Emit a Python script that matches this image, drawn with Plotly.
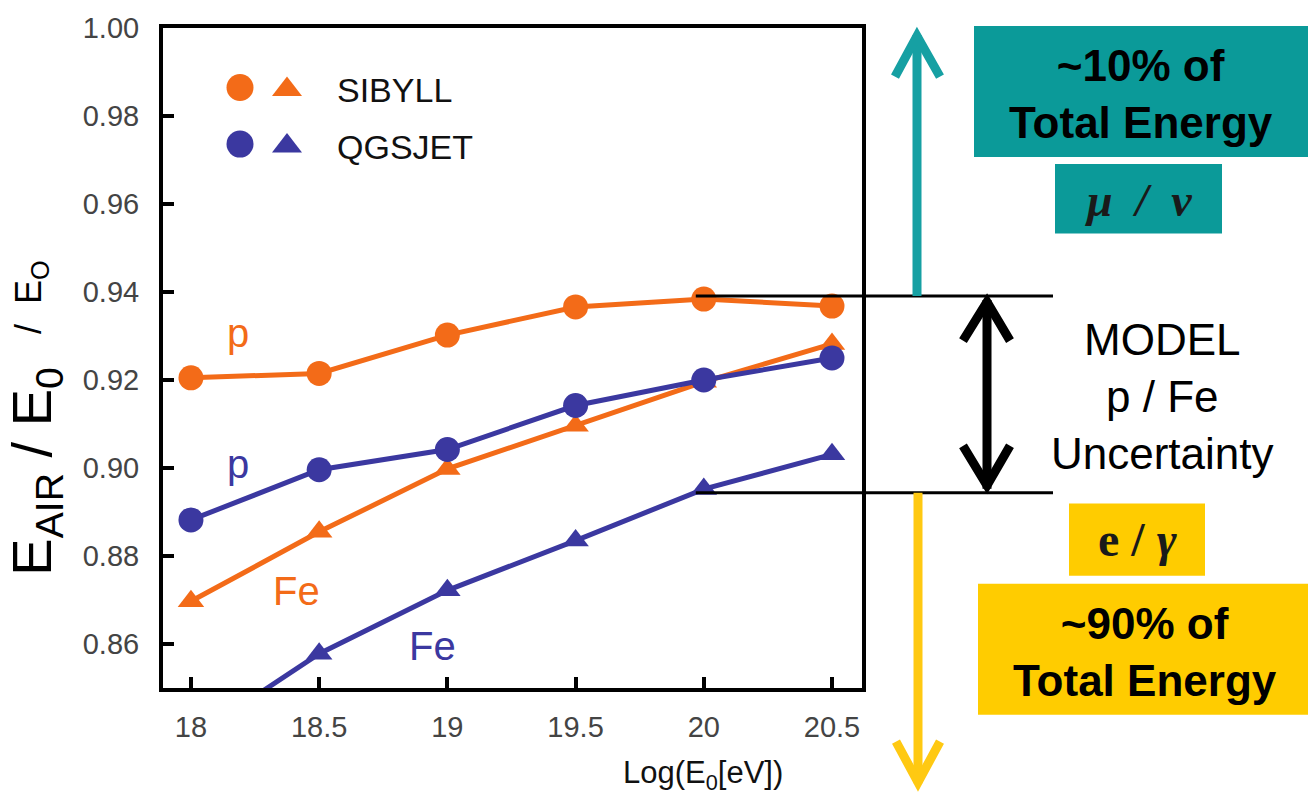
import plotly.graph_objects as go

# ---------------- data ----------------
log_e = [18.0, 18.5, 19.0, 19.5, 20.0, 20.5]
sibyll_p = [0.9205, 0.9215, 0.9302, 0.9366, 0.9384, 0.9368]
sibyll_fe = [0.8697, 0.8855, 0.8998, 0.9096, 0.9196, 0.9282]
qgsjet_p = [0.8882, 0.8996, 0.9042, 0.9142, 0.9200, 0.9250]
qgsjet_fe = [0.8385, 0.8578, 0.8722, 0.8835, 0.8952, 0.9031]
model_band = [0.8944, 0.9391]   # lower / upper edge of the p/Fe uncertainty band

x_ticks = [18, 18.5, 19, 19.5, 20, 20.5]
x_tick_text = ["18", "18.5", "19", "19.5", "20", "20.5"]
y_ticks = [0.86, 0.88, 0.90, 0.92, 0.94, 0.96, 0.98, 1.00]
y_tick_text = ["0.86", "0.88", "0.90", "0.92", "0.94", "0.96", "0.98", "1.00"]

ORANGE = "#F36B18"
BLUE = "#3B38A0"
TEAL_BOX = "#0B9A99"
TEAL_ARROW = "#16A0A3"
YELLOW = "#FFCC00"
YELLOW_ARROW = "#FFC912"
SANS = "Liberation Sans, Arial, sans-serif"
SERIF = "Liberation Serif, Times New Roman, serif"

# ---------------- geometry ----------------
W, H = 1308, 795
L, R, T, B = 163, 862, 23, 688
X_RANGE = [17.891, 20.617]
Y_RANGE = [0.85, 1.0]


def px(x):
    return (x - L) / (R - L)


def py(y):
    return (B - y) / (B - T)


def dx(v):
    return (v - X_RANGE[0]) / (X_RANGE[1] - X_RANGE[0])


def dy(v):
    return (v - Y_RANGE[0]) / (Y_RANGE[1] - Y_RANGE[0])


fig = go.Figure()

series = [
    (sibyll_p, ORANGE, "circle", 25),
    (sibyll_fe, ORANGE, "triangle-up", 23),
    (qgsjet_p, BLUE, "circle", 25),
    (qgsjet_fe, BLUE, "triangle-up", 23),
]
for vals, col, sym, size in series:
    fig.add_trace(go.Scatter(
        x=log_e, y=vals, mode="lines+markers",
        line=dict(color=col, width=5),
        marker=dict(symbol=sym, size=size, color=col, opacity=1, line=dict(width=0)),
        showlegend=False, hoverinfo="skip",
    ))

# legend symbols on an overlay axis in [0,1] plot-area units
leg_x = [px(240), px(287), px(240), px(287)]
leg_y = [py(83), py(85), py(140), py(142)]
leg_sym = ["circle", "triangle-up", "circle", "triangle-up"]
leg_col = [ORANGE, ORANGE, BLUE, BLUE]
fig.add_trace(go.Scatter(
    x=leg_x, y=leg_y, mode="markers", xaxis="x2", yaxis="y2",
    marker=dict(symbol=leg_sym, color=leg_col, size=[27, 26, 27, 26], opacity=1,
                line=dict(width=0)),
    showlegend=False, hoverinfo="skip",
))

ann = []


def text(x, y, s, size, color="black", family=SANS, angle=0, xanchor="center"):
    ann.append(dict(x=x, y=y, xref="paper", yref="paper", text=s, showarrow=False,
                    font=dict(size=size, color=color, family=family),
                    textangle=angle, xanchor=xanchor, yanchor="middle"))


# legend labels
text(px(335), py(85), "SIBYLL", 34, "#111111", xanchor="left")
text(px(335), py(143), "QGSJET", 34, "#111111", xanchor="left")

# curve labels
text(px(238), py(330), "p", 40, ORANGE)
text(px(238), py(462), "p", 40, BLUE)
text(px(296), py(590), "Fe", 40, ORANGE)
text(px(432), py(646), "Fe", 40, BLUE)

# axis titles
text(px(36), py(470), "E<sub>AIR</sub> / E<sub>0</sub>", 56, "black", angle=-90)
text(px(31), py(294), "/  E<sub>O</sub>", 36, "black", angle=-90)
text(px(703), py(776), "Log(E<sub>0</sub>[eV])", 31, "#111111")

# right-hand annotation texts
text(px(1141), py(90), "<b>~10% of<br>Total Energy</b>", 44)
text(px(1138), py(197), "<b><i>\u03bc\u00a0\u00a0/\u00a0\u00a0\u03bd</i></b>", 46, "#1a1a1a", SERIF)
text(px(1162), py(394), "MODEL<br>p / Fe<br>Uncertainty", 44)
text(px(1137), py(538), "<b>e / <i>\u03b3</i></b>", 48, "#1a1a1a", SERIF)
text(px(1145), py(652), "<b>~90% of<br>Total Energy</b>", 44)

shapes = []


def rect(x0, y0, x1, y1, color):
    shapes.append(dict(type="rect", xref="paper", yref="paper",
                       x0=px(x0), x1=px(x1), y0=py(y1), y1=py(y0),
                       fillcolor=color, line=dict(width=0), layer="below"))


def seg(x0, y0, x1, y1, color, width):
    shapes.append(dict(type="line", xref="paper", yref="paper",
                       x0=x0, x1=x1, y0=y0, y1=y1, line=dict(color=color, width=width)))


def chevron(points, color, width):
    p = "M " + " L ".join(f"{px(a):.5f},{py(b):.5f}" for a, b in points)
    shapes.append(dict(type="path", xref="paper", yref="paper", path=p,
                       line=dict(color=color, width=width)))


rect(974, 21, 1308, 153, TEAL_BOX)
rect(1055, 160, 1222, 230, TEAL_BOX)
rect(1069, 502, 1205, 575, YELLOW)
rect(978, 583, 1308, 715, YELLOW)

# band edge lines
x_start = dx(log_e[4]) - 8 / (R - L)
seg(x_start, dy(model_band[1]), px(1053), dy(model_band[1]), "black", 3)
seg(x_start, dy(model_band[0]), px(1053), dy(model_band[0]), "black", 3)

# teal arrow up
seg(px(917), dy(model_band[1]), px(917), py(30), TEAL_ARROW, 9)
chevron([(895, 72), (917, 31), (940, 72)], TEAL_ARROW, 9)
# yellow arrow down
seg(px(918), dy(model_band[0]), px(918), py(784), YELLOW_ARROW, 9)
chevron([(896, 742), (918, 783), (940, 742)], YELLOW_ARROW, 9)
# black double arrow
seg(px(987), dy(model_band[1]) - 4 / (B - T), px(987), dy(model_band[0]) + 4 / (B - T), "black", 9)
chevron([(963, 338), (987, 299), (1010, 338)], "black", 9)
chevron([(963, 444), (987, 484), (1010, 444)], "black", 9)

fig.update_layout(
    width=W, height=H,
    margin=dict(l=L, r=W - R, t=T, b=H - B, pad=0),
    paper_bgcolor="white", plot_bgcolor="white",
    xaxis=dict(range=X_RANGE, tickvals=x_ticks, ticktext=x_tick_text,
               showgrid=False, zeroline=False, showline=True, mirror=True,
               linecolor="black", linewidth=4, ticks="inside", ticklen=11,
               tickwidth=4, tickcolor="black", ticklabelstandoff=10,
               tickfont=dict(size=29, color="#444444", family=SANS)),
    yaxis=dict(range=Y_RANGE, tickvals=y_ticks, ticktext=y_tick_text,
               showgrid=False, zeroline=False, showline=True, mirror=True,
               linecolor="black", linewidth=4, ticks="inside", ticklen=11,
               tickwidth=4, tickcolor="black", ticklabelstandoff=14,
               tickfont=dict(size=29, color="#444444", family=SANS)),
    xaxis2=dict(range=[0, 1], overlaying="x", visible=False),
    yaxis2=dict(range=[0, 1], overlaying="y", visible=False),
    annotations=ann, shapes=shapes,
)

fig.write_html(
    "out.html",
    config={"displayModeBar": False},
    post_script="document.body.style.margin='0';document.body.style.overflow='hidden';",
)
